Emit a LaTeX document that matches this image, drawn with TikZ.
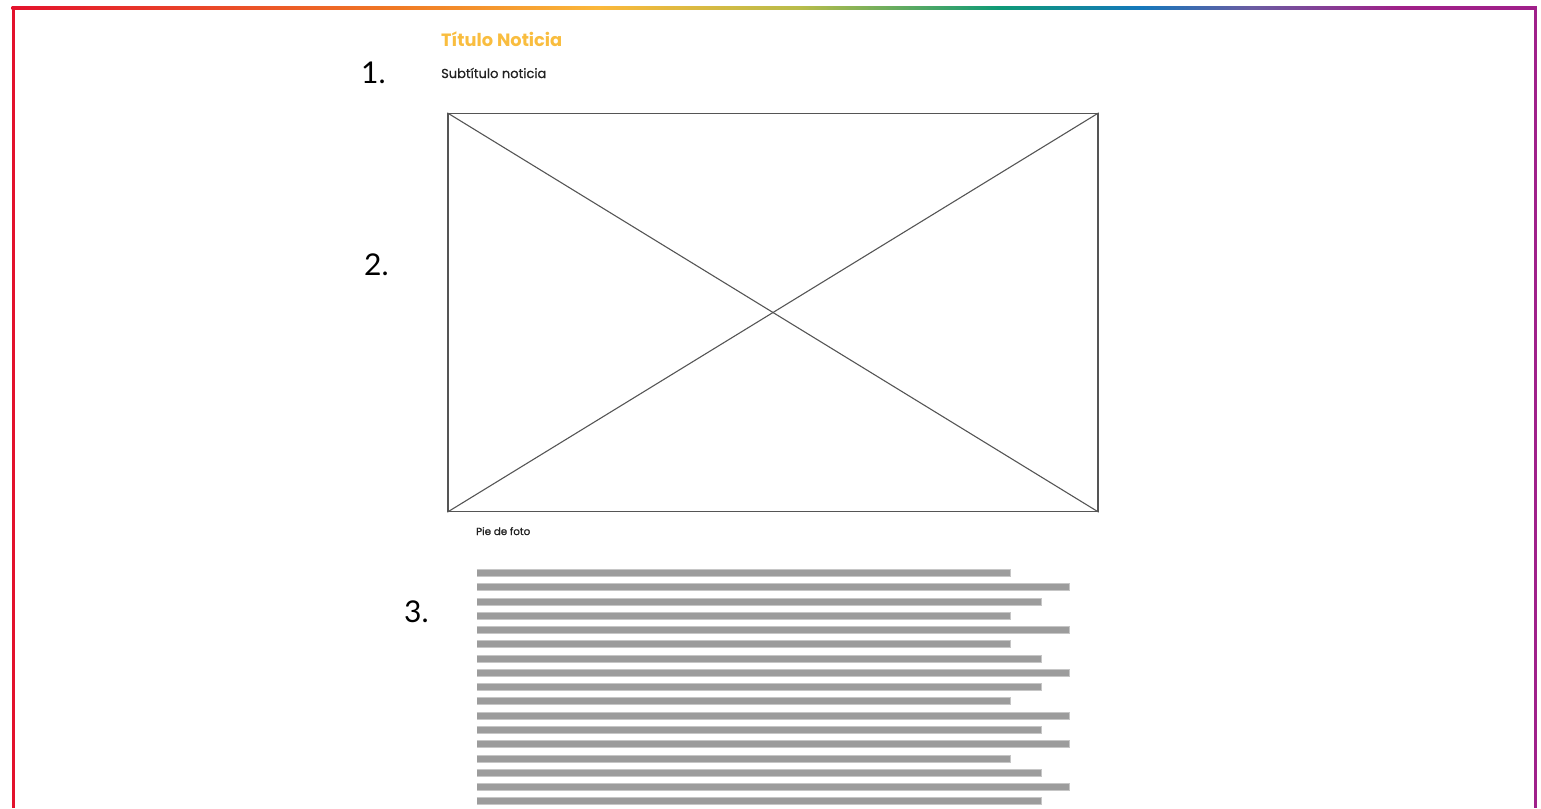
\documentclass[tikz,border=0pt]{standalone}
\usepackage{fontspec}
\setmainfont{Poppins}
\newfontfamily\numfont{Lato}
\newfontfamily\subfont[FakeBold=0.8]{Poppins}
\definecolor{cA}{HTML}{E3122C}
\definecolor{cB}{HTML}{F07A24}
\definecolor{cC}{HTML}{FBB83A}
\definecolor{cD}{HTML}{B8BC4A}
\definecolor{cE}{HTML}{0E9A76}
\definecolor{cF}{HTML}{1478BC}
\definecolor{cG}{HTML}{6A5CA2}
\definecolor{cH}{HTML}{A02088}
\definecolor{cI}{HTML}{A0208A}
\definecolor{titlecol}{HTML}{F9BD3F}
\definecolor{inkcol}{HTML}{222222}
\definecolor{photoline}{HTML}{555555}
\definecolor{barcol}{HTML}{9C9C9C}
\definecolor{halocol}{HTML}{C6C6C6}
\pgfdeclarehorizontalshading{rainbow}{100bp}{color(0bp)=(cA); color(25bp)=(cA); color(37.7bp)=(cB); color(44.25bp)=(cC); color(50.85bp)=(cD); color(57.4bp)=(cE); color(62bp)=(cF); color(65.65bp)=(cG); color(70.5bp)=(cH); color(75bp)=(cI); color(100bp)=(cI)}
\tikzset{
  numlabel/.style={anchor=base west, inner sep=0, font=\numfont\fontsize{30}{34}\selectfont, text=black},
  photobox/.style={draw=photoline, line width=1.3pt, minimum width=650pt, minimum height=398pt, inner sep=0},
  cross/.style={draw=photoline, line width=1.1pt},
  barouter/.style={line width=7.5pt, draw=halocol},
  barinner/.style={line width=5.5pt, draw=barcol},
}
\begin{document}
\begin{tikzpicture}[x=1pt, y=-1pt]
\useasboundingbox (0,0) rectangle (1541,808);
% frame
\shade[shading=rainbow] (11.5,6.5) rectangle (1536.5,9.5);
\fill[cA] (11.5,6.5) rectangle (14.5,808);
\fill[cI] (1533.5,6.5) rectangle (1536.5,808);
% texts
\node[anchor=base west, inner sep=0, font=\bfseries\fontsize{17.8}{20}\selectfont, text=titlecol] (title) at (441,47) {Título Noticia};
\node[anchor=base west, inner sep=0, font=\subfont\fontsize{13}{15}\selectfont, text=inkcol] (subtitle) at (441,78) {Subtítulo noticia};
\node[numlabel] (n1) at (361,83) {1.};
\node[numlabel] (n2) at (364,275) {2.};
\node[numlabel] (n3) at (404,622) {3.};
% photo placeholder
\node[photobox] (photo) at (773,312.5) {};
\draw[cross] (photo.north west) -- (photo.south east);
\draw[cross] (photo.north east) -- (photo.south west);
\node[anchor=base west, inner sep=0, font=\subfont\fontsize{10.3}{12}\selectfont, text=inkcol] (caption) at (476,535) {Pie de foto};
% text lines
\foreach \y/\e in {573/1010,587/1069,602/1041,616/1010,630/1069,644/1010,659/1041,673/1069,687/1041,701/1010,716/1069,730/1041,744/1069,759/1010,773/1041,787/1069,801/1041}{
  \draw[barouter] (476.5,\y) -- (\e+0.5,\y);
  \draw[barinner] (477,\y) -- (\e,\y);
}
\end{tikzpicture}
\end{document}
